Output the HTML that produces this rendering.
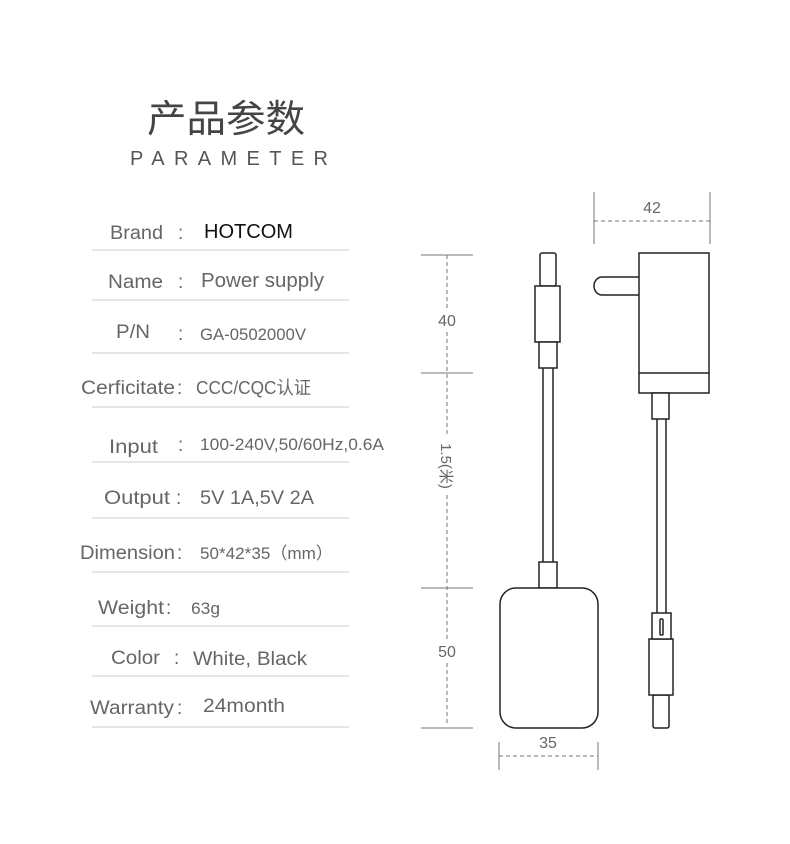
<!DOCTYPE html>
<html><head><meta charset="utf-8"><style>
html,body{margin:0;padding:0;background:#fff;}
svg{display:block;}
text{font-family:"Liberation Sans","Noto Sans CJK SC",sans-serif;}
</style></head><body>
<svg width="790" height="844" viewBox="0 0 790 844" xmlns="http://www.w3.org/2000/svg">
<text x="147" y="132" font-size="38" fill="#444" textLength="158" lengthAdjust="spacingAndGlyphs" font-family="Noto Sans CJK SC, sans-serif">产品参数</text>
<text x="130" y="165" font-size="20" fill="#555" textLength="198" lengthAdjust="spacing">PARAMETER</text>

<g stroke="#ccc" stroke-width="1">
<line x1="92" y1="250" x2="349" y2="250"/>
<line x1="92" y1="300" x2="349" y2="300"/>
<line x1="92" y1="353" x2="349" y2="353"/>
<line x1="92" y1="407" x2="349" y2="407"/>
<line x1="92" y1="462" x2="349" y2="462"/>
<line x1="92" y1="518" x2="349" y2="518"/>
<line x1="92" y1="572" x2="349" y2="572"/>
<line x1="92" y1="626" x2="349" y2="626"/>
<line x1="92" y1="676" x2="349" y2="676"/>
<line x1="92" y1="727" x2="349" y2="727"/>
</g>
<g font-size="19" fill="#666" lengthAdjust="spacingAndGlyphs">
<text x="110" y="239" textLength="53" lengthAdjust="spacingAndGlyphs">Brand</text>
<text x="108" y="288" textLength="55" lengthAdjust="spacingAndGlyphs">Name</text>
<text x="116" y="338" textLength="34" lengthAdjust="spacingAndGlyphs">P/N</text>
<text x="81" y="394" textLength="94" lengthAdjust="spacingAndGlyphs">Cerficitate</text>
<text x="109" y="453" textLength="49" lengthAdjust="spacingAndGlyphs">Input</text>
<text x="104" y="504" textLength="66" lengthAdjust="spacingAndGlyphs">Output</text>
<text x="80" y="559" textLength="95" lengthAdjust="spacingAndGlyphs">Dimension</text>
<text x="98" y="614" textLength="66" lengthAdjust="spacingAndGlyphs">Weight</text>
<text x="111" y="664" textLength="49" lengthAdjust="spacingAndGlyphs">Color</text>
<text x="90" y="714" textLength="84" lengthAdjust="spacingAndGlyphs">Warranty</text>
</g>
<g font-size="19" fill="#666">
<text x="178" y="239">:</text>
<text x="178" y="288">:</text>
<text x="178" y="340">:</text>
<text x="177" y="394">:</text>
<text x="178" y="451">:</text>
<text x="176" y="504">:</text>
<text x="177" y="559">:</text>
<text x="166" y="614">:</text>
<text x="174" y="664">:</text>
<text x="177" y="714">:</text>
</g>
<text x="204" y="238" font-size="20" fill="#111" textLength="89" lengthAdjust="spacingAndGlyphs">HOTCOM</text>
<g fill="#666">
<text x="201" y="287" font-size="20" textLength="123" lengthAdjust="spacingAndGlyphs">Power supply</text>
<text x="200" y="340" font-size="17" textLength="106" lengthAdjust="spacingAndGlyphs">GA-0502000V</text>
<text x="196" y="394" font-size="18" textLength="115" lengthAdjust="spacingAndGlyphs">CCC/CQC认证</text>
<text x="200" y="450" font-size="17" textLength="184" lengthAdjust="spacingAndGlyphs">100-240V,50/60Hz,0.6A</text>
<text x="200" y="504" font-size="19" textLength="114" lengthAdjust="spacingAndGlyphs">5V 1A,5V 2A</text>
<text x="200" y="559" font-size="17" textLength="133" lengthAdjust="spacingAndGlyphs">50*42*35（mm）</text>
<text x="191" y="614" font-size="17" textLength="29" lengthAdjust="spacingAndGlyphs">63g</text>
<text x="193" y="665" font-size="19" textLength="114" lengthAdjust="spacingAndGlyphs">White, Black</text>
<text x="203" y="712" font-size="19" textLength="82" lengthAdjust="spacingAndGlyphs">24month</text>
</g>

<!-- dimension lines -->
<g stroke="#777" stroke-width="1" fill="none">
<line x1="594" y1="192" x2="594" y2="244"/>
<line x1="710" y1="192" x2="710" y2="244"/>
<line x1="594" y1="221" x2="710" y2="221" stroke-dasharray="4,3"/>
<line x1="421" y1="255" x2="473" y2="255"/>
<line x1="421" y1="373" x2="473" y2="373"/>
<line x1="421" y1="588" x2="473" y2="588"/>
<line x1="421" y1="728" x2="473" y2="728"/>
<line x1="447" y1="255" x2="447" y2="437" stroke-dasharray="4,3"/>
<line x1="447" y1="495" x2="447" y2="724" stroke-dasharray="4,3"/>
<line x1="499" y1="742" x2="499" y2="770"/>
<line x1="598" y1="742" x2="598" y2="770"/>
<line x1="499" y1="756" x2="598" y2="756" stroke-dasharray="4,3"/>
</g>
<g fill="#fff">
<rect x="436" y="310" width="22" height="20"/>
<rect x="436" y="641" width="22" height="20"/>
</g>
<g font-size="16" fill="#666" text-anchor="middle">
<text x="652" y="213">42</text>
<text x="447" y="326">40</text>
<text x="447" y="657">50</text>
<text x="548" y="748">35</text>
<text x="0" y="0" transform="translate(441,466) rotate(90)" font-size="15">1.5(米)</text>
</g>

<!-- left plug -->
<g stroke="#222" stroke-width="1.5" fill="#fff">
<line x1="543" y1="368" x2="543" y2="562"/>
<line x1="553" y1="368" x2="553" y2="562"/>
<rect x="540" y="253" width="16" height="33" rx="2"/>
<rect x="535" y="286" width="25" height="56"/>
<rect x="539" y="342" width="18" height="26"/>
<rect x="539" y="562" width="18" height="26"/>
<rect x="500" y="588" width="98" height="140" rx="16"/>
</g>
<!-- right plug -->
<g stroke="#222" stroke-width="1.5" fill="#fff">
<path d="M639,277 H602 A8,9 0 0 0 602,295 H639"/>
<rect x="639" y="253" width="70" height="140"/>
<line x1="639" y1="373" x2="709" y2="373"/>
<rect x="652" y="393" width="17" height="26"/>
<line x1="657" y1="419" x2="657" y2="613"/>
<line x1="666" y1="419" x2="666" y2="613"/>
<rect x="653" y="695" width="16" height="33" rx="2"/>
<rect x="649" y="639" width="24" height="56"/>
<rect x="652" y="613" width="19" height="26"/>
<rect x="660" y="619" width="3" height="16" rx="1"/>
</g>
</svg>
</body></html>
